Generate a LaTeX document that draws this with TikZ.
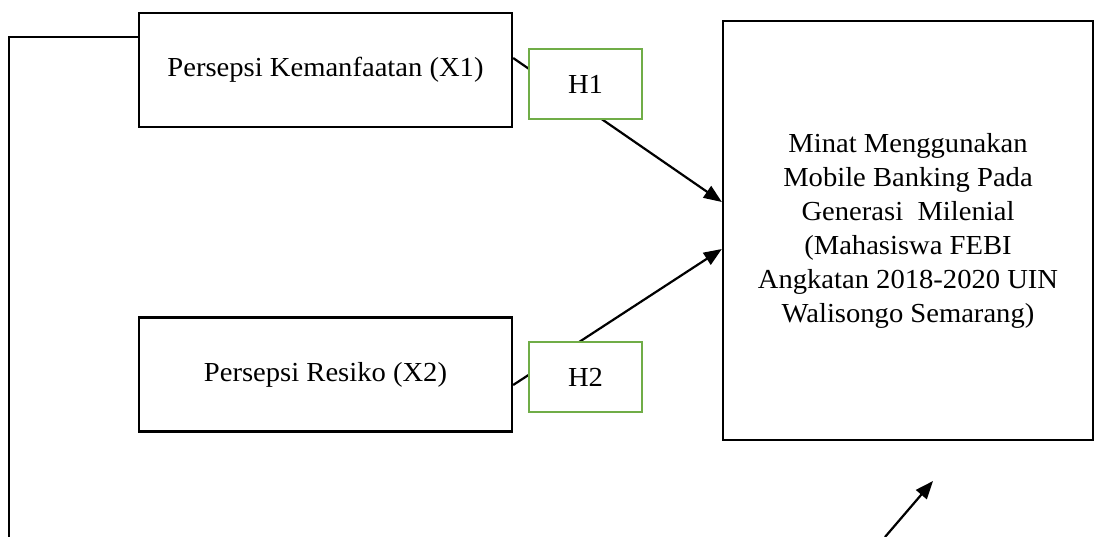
\documentclass[tikz,border=0pt]{standalone}
\usepackage{fontspec}
\setmainfont{Liberation Serif}[FakeStretch=1.04]
\usetikzlibrary{arrows.meta,calc}
\definecolor{hypgreen}{RGB}{112,173,71}

\begin{document}
\begin{tikzpicture}[x=1pt,y=-1pt,
  txt/.style={font=\fontsize{27.5}{34}\selectfont},
  varbox/.style={txt,draw=black,line width=2.3pt,fill=white,
    minimum width=373pt,minimum height=114pt,inner sep=0pt},
  hypbox/.style={txt,draw=hypgreen,line width=1.8pt,fill=white,
    minimum width=113pt,minimum height=70pt,inner sep=0pt},
  depbox/.style={txt,draw=black,line width=2.3pt,fill=white,align=center,
    minimum width=370pt,minimum height=419pt,inner sep=0pt},
  link/.style={line width=2.2pt,-{Triangle[length=18pt,width=14pt]}},
  rail/.style={line width=1.1pt}]
\useasboundingbox (0,0) rectangle (1095,536);

% variables
\node[varbox] (x1) at (325.5,70) {Persepsi Kemanfaatan (X1)};
\node[varbox] (x2) at (325.5,374.5) {Persepsi Resiko (X2)};
\node[depbox] (y) at (908,230.5) {Minat Menggunakan\\Mobile Banking Pada\\Generasi~ Milenial\\(Mahasiswa FEBI\\Angkatan 2018-2020 UIN\\Walisongo Semarang)};

% hypothesised effects
\draw[link] ([yshift=12pt]x1.east) -- ([yshift=28.5pt]y.west);
\draw[link] ([yshift=-10.5pt]x2.east) -- ([yshift=-18.5pt]y.west);

% hypothesis labels on the paths
\node[hypbox] (h1) at (585.5,84) {H1};
\node[hypbox] (h2) at (585.5,377) {H2};

% simultaneous path along the left margin
\coordinate (railend) at (9,537);
\draw[rail] ([yshift=33pt]x1.west) -| (railend);

% combined effect arrow below the dependent variable
\coordinate (simfrom) at (885,537);
\coordinate (simto) at (933,481);
\draw[link] (simfrom) -- (simto);
\end{tikzpicture}
\end{document}
